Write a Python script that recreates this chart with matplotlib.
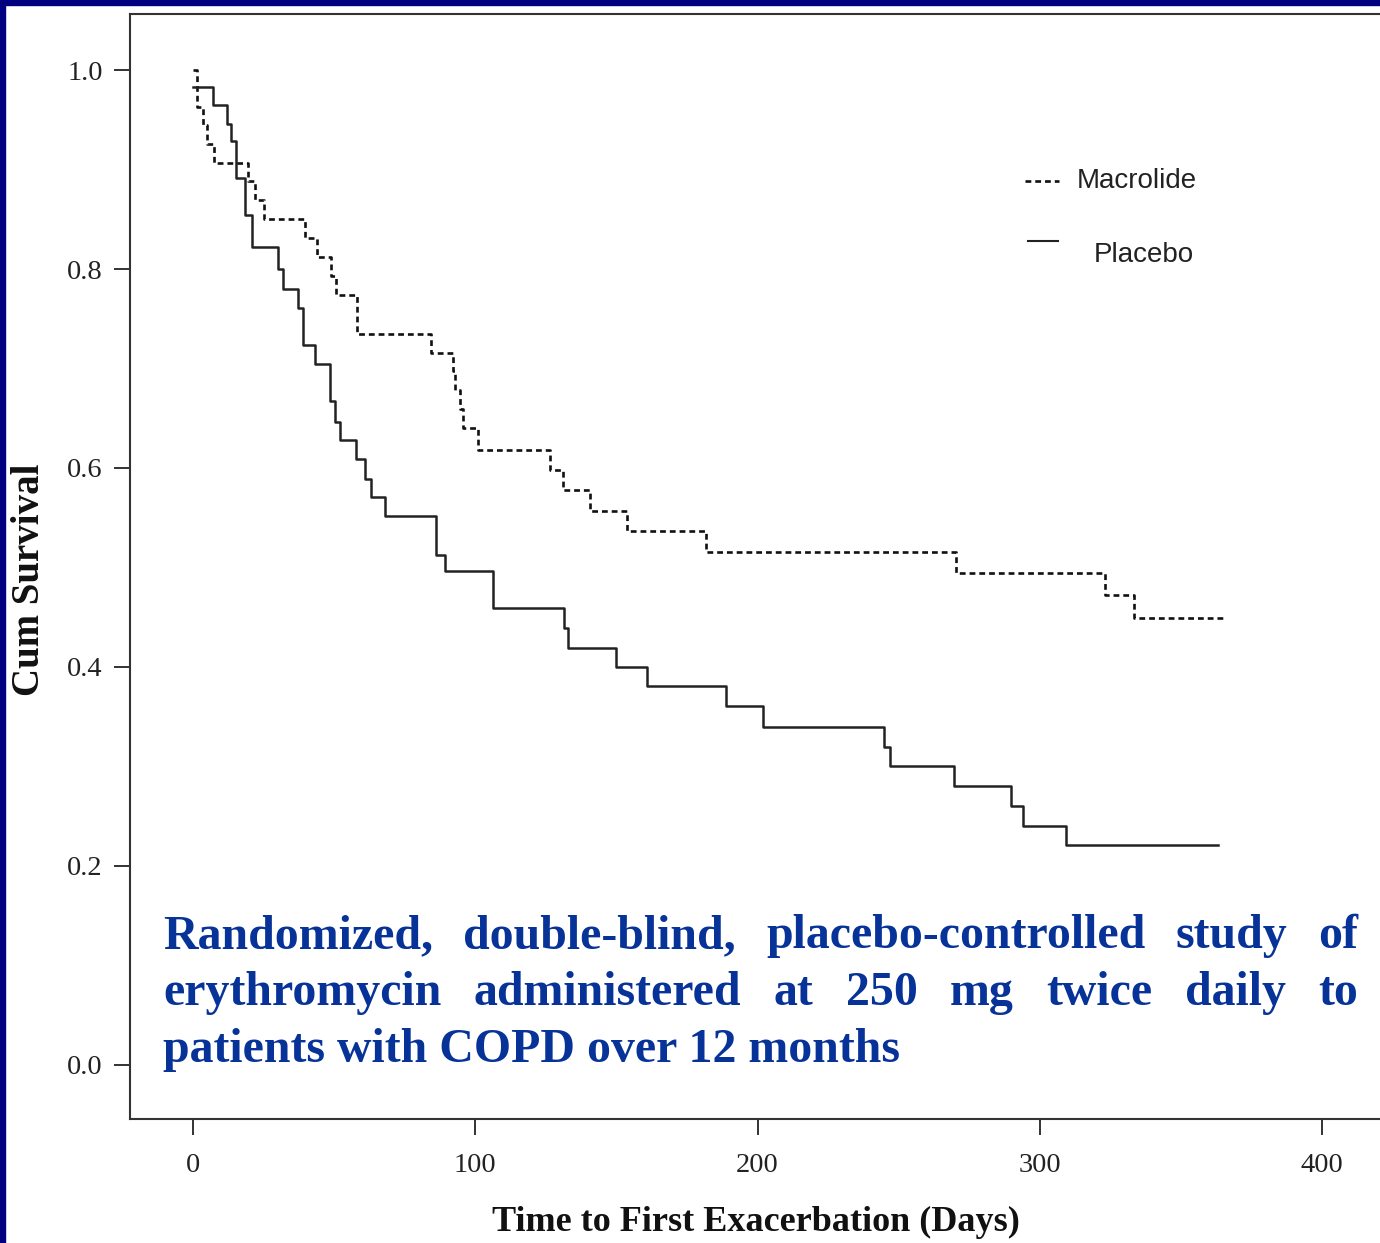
import matplotlib
matplotlib.use("Agg")
import matplotlib.pyplot as plt
from matplotlib.patches import Rectangle

# Kaplan-Meier steps (day of event, survival after it)
macro_days = [0, 1.5, 3.5, 5.0, 7.5, 19.5, 22.0, 25.0, 39.7, 43.8, 49.0, 50.5, 58.0,
              84.5, 92.2, 93.0, 94.5, 95.5, 101.0, 126.5, 131.2, 140.6, 153.6, 181.9,
              270.4, 323.0, 333.4]
macro_surv = [1.0, 0.963, 0.945, 0.926, 0.907, 0.888, 0.869, 0.850, 0.831, 0.812, 0.793,
              0.774, 0.735, 0.716, 0.697, 0.678, 0.659, 0.640, 0.618, 0.598, 0.578, 0.557,
              0.537, 0.516, 0.494, 0.472, 0.449]
macro_end = 365

placebo_days = [0, 7.2, 12.2, 13.4, 15.1, 18.4, 20.8, 30.2, 32.0, 37.3, 39.1, 43.2, 48.5,
                50.3, 52.1, 57.8, 60.9, 63.2, 68.0, 86.1, 89.3, 106.4, 131.5, 133.0, 149.9,
                161.0, 189.0, 202.0, 244.9, 247.0, 269.7, 289.8, 293.9, 309.1]
placebo_surv = [0.983, 0.965, 0.946, 0.929, 0.891, 0.854, 0.822, 0.80, 0.78, 0.761, 0.724,
                0.705, 0.667, 0.646, 0.628, 0.609, 0.589, 0.571, 0.552, 0.513, 0.496, 0.459,
                0.439, 0.419, 0.40, 0.381, 0.361, 0.340, 0.32, 0.30, 0.28, 0.26, 0.24, 0.221]
placebo_end = 363

x_ticks = [0, 100, 200, 300, 400]
y_ticks = [0.0, 0.2, 0.4, 0.6, 0.8, 1.0]

W, H = 1380, 1243
fig = plt.figure(figsize=(W / 100, H / 100), dpi=100)
fig.patch.set_facecolor("white")

# navy slide border (left and top)
fig.patches.append(Rectangle((0, 0), 5 / W, 1, transform=fig.transFigure,
                             color="#000080", zorder=0))
fig.patches.append(Rectangle((0, 1 - 5 / H), 1, 5 / H, transform=fig.transFigure,
                             color="#000080", zorder=0))

ax = fig.add_axes([130 / W, 124 / H, 0.95, (1119 - 14) / H])
ax.set_xlim(-22.3, 442.1)
ax.set_ylim(-0.0543, 1.0563)

ax.step(macro_days + [macro_end], macro_surv + [macro_surv[-1]], where="post",
        color="#111111", lw=1.9, dashes=[2.2, 1.5])
ax.step(placebo_days + [placebo_end], placebo_surv + [placebo_surv[-1]], where="post",
        color="#222222", lw=1.8)

ax.spines["right"].set_visible(False)
for s in ["left", "bottom", "top"]:
    ax.spines[s].set_color("#333333")
    ax.spines[s].set_linewidth(1.5)

ax.set_xticks(x_ticks)
ax.set_yticks(y_ticks)
ax.set_yticklabels(["%.1f" % v for v in y_ticks])
ax.tick_params(direction="out", length=11.5, width=1.4, colors="#333333",
               labelcolor="#222222", labelsize=20.5)
ax.tick_params(axis="x", pad=13)
ax.tick_params(axis="y", pad=8)
for lab in ax.get_xticklabels() + ax.get_yticklabels():
    lab.set_family("Liberation Serif")

fig.text(756 / W, 1 - 1222 / H, "Time to First Exacerbation (Days)", ha="center",
         va="center", family="Liberation Serif", weight="bold", fontsize=26,
         color="#111111")
fig.text(30 / W, 1 - 580 / H, "Cum Survival", ha="center", va="center", rotation=90,
         family="Liberation Serif", weight="bold", fontsize=28, color="#111111")

# legend keys
ax.plot([0.683, 0.709], [0.849, 0.849], transform=ax.transAxes, color="#111111",
        lw=1.9, dashes=[2.2, 1.5])
ax.plot([0.685, 0.708], [0.795, 0.795], transform=ax.transAxes, color="#222222", lw=1.5)
fig.text(1077 / W, 1 - 181 / H, "Macrolide", ha="left", va="center",
         family="Liberation Sans", fontsize=20, color="#222222")
fig.text(1094 / W, 1 - 255 / H, "Placebo", ha="left", va="center",
         family="Liberation Sans", fontsize=20, color="#222222")

# study note, justified like the slide
note_kw = dict(family="Liberation Serif", weight="bold", fontsize=34.5, color="#073399",
               va="baseline", ha="left")
renderer = fig.canvas.get_renderer()


def justified(words, base_px, x0, x1):
    texts = [fig.text(0, 1 - base_px / H, w, **note_kw) for w in words]
    widths = [t.get_window_extent(renderer).width for t in texts]
    gap = (x1 - x0 - sum(widths)) / (len(words) - 1)
    x = x0
    for t, w in zip(texts, widths):
        t.set_x(x / W)
        x += w + gap


justified(["Randomized,", "double-blind,", "placebo-controlled", "study", "of"],
          948, 163, 1358)
justified(["erythromycin", "administered", "at", "250", "mg", "twice", "daily", "to"],
          1005, 163, 1358)
fig.text(163 / W, 1 - 1062 / H, "patients with COPD over 12 months", **note_kw)

fig.savefig("out.png", dpi=100)
